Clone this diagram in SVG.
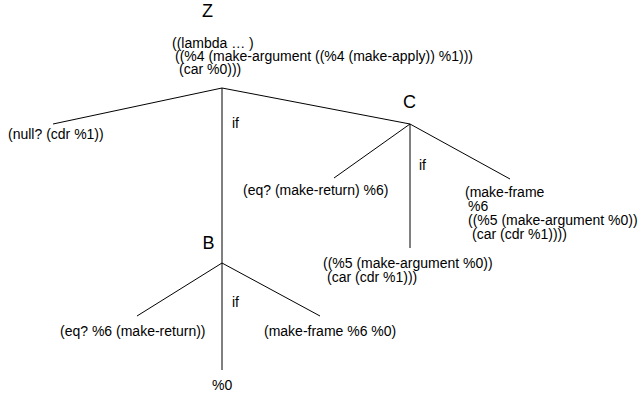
<svg xmlns="http://www.w3.org/2000/svg" width="641" height="397" viewBox="0 0 641 397">
<style>
text{font-family:"Liberation Sans",Arial,sans-serif;fill:#000}
.t{font-size:14px}
.lbl{font-size:18px}
.c line{stroke:#000;stroke-width:1}
</style>
<rect width="641" height="397" fill="#fff"/>
<g class="c" id="connectors">
<line x1="222" y1="88" x2="53" y2="124"/>
<line x1="222" y1="88" x2="222" y2="263"/>
<line x1="222" y1="88" x2="410" y2="124"/>
<line x1="410" y1="124" x2="334" y2="178"/>
<line x1="410" y1="124" x2="410" y2="248"/>
<line x1="410" y1="124" x2="510" y2="179"/>
<line x1="222" y1="263" x2="137" y2="316"/>
<line x1="222" y1="263" x2="222" y2="370"/>
<line x1="222" y1="263" x2="320" y2="316"/>
<text class="t" x="232" y="128">if</text>
<text class="t" x="419" y="170">if</text>
<text class="t" x="232" y="307">if</text>
</g>
<g id="nodeZ">
<text class="lbl" x="207.5" y="17" text-anchor="middle">Z</text>
<text class="t" x="172" y="48">((lambda … )</text>
<text class="t" x="175" y="61">((%4 (make-argument ((%4 (make-apply)) %1)))</text>
<text class="t" x="179" y="74">(car %0)))</text>
</g>
<g id="nodeNull">
<text class="t" x="8" y="139">(null? (cdr %1))</text>
</g>
<g id="nodeC">
<text class="lbl" x="409.5" y="108" text-anchor="middle">C</text>
</g>
<g id="nodeEqC">
<text class="t" x="243" y="195">(eq? (make-return) %6)</text>
</g>
<g id="nodeFrameC">
<text class="t" x="465" y="197">(make-frame</text>
<text class="t" x="468" y="211">%6</text>
<text class="t" x="468" y="225">((%5 (make-argument %0))</text>
<text class="t" x="472" y="239">(car (cdr %1))))</text>
</g>
<g id="nodeArgC">
<text class="t" x="323" y="268">((%5 (make-argument %0))</text>
<text class="t" x="327" y="282">(car (cdr %1)))</text>
</g>
<g id="nodeB">
<text class="lbl" x="208.5" y="249" text-anchor="middle">B</text>
</g>
<g id="nodeEqB">
<text class="t" x="60" y="336">(eq? %6 (make-return))</text>
</g>
<g id="nodeFrameB">
<text class="t" x="264" y="336">(make-frame %6 %0)</text>
</g>
<g id="nodeP0">
<text class="t" x="212" y="390">%0</text>
</g>
</svg>
